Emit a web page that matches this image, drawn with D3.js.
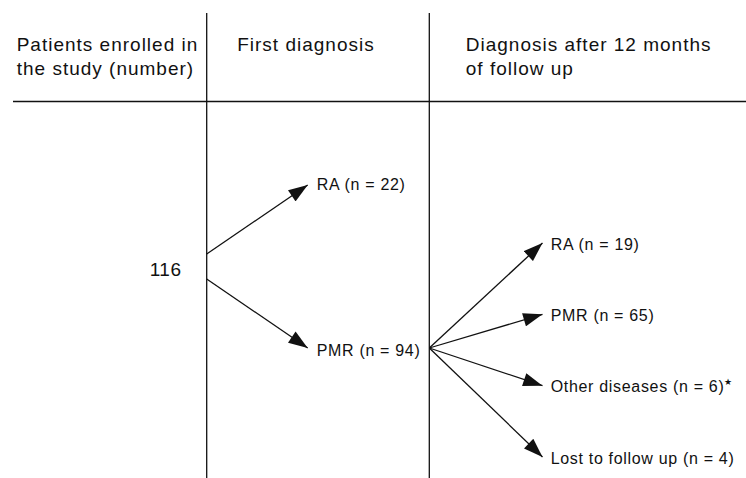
<!DOCTYPE html>
<html>
<head>
<meta charset="utf-8">
<script src="https://cdn.jsdelivr.net/npm/d3@7"></script>
<style>
  html, body { margin: 0; padding: 0; background: #fff; }
  svg { display: block; }
  text { font-family: "Liberation Sans", Arial, Helvetica, sans-serif; fill: #111; }
</style>
</head>
<body>
<svg id="chart" width="746" height="478"></svg>
<script>
// ---- data ----
const headers = [
  ["Patients enrolled in", "the study (number)"],
  ["First diagnosis"],
  ["Diagnosis after 12 months", "of follow up"]
];
const enrolledTotal = 116;
const firstNames = ["RA", "PMR"];
const firstCounts = [22, 94];
const followNames = ["RA", "PMR", "Other diseases", "Lost to follow up"];
const followCounts = [19, 65, 6, 4];
const followNotes = ["", "", "\u2605", ""];

// ---- layout ----
const W = 746, H = 478;
const svg = d3.select("#chart");
const ink = "#111";

// column dividers
const colX = d3.scaleOrdinal().domain([1, 2]).range([206.7, 429.3]);
const lineTop = 13, headerLineY = 101.5;

// rows
const yFirst = d3.scalePoint().domain(firstNames).range([185, 348]);
const yFollow = d3.scalePoint().domain(followNames).range([243, 457]);
const enrolledY = 266.5;

// marker
svg.append("defs").append("marker")
  .attr("id", "arrow")
  .attr("viewBox", "0 0 20 14")
  .attr("refX", 20).attr("refY", 7)
  .attr("markerWidth", 20).attr("markerHeight", 13.5)
  .attr("markerUnits", "userSpaceOnUse")
  .attr("orient", "auto")
  .append("path").attr("d", "M0,0 L20,7 L0,14 Z").attr("fill", ink);

// divider lines
svg.selectAll("line.col").data([1, 2]).join("line")
  .attr("class", "col")
  .attr("x1", d => colX(d)).attr("x2", d => colX(d))
  .attr("y1", lineTop).attr("y2", H)
  .attr("stroke", ink).attr("stroke-width", 1.3);

svg.append("line")
  .attr("x1", 13).attr("x2", W)
  .attr("y1", headerLineY).attr("y2", headerLineY)
  .attr("stroke", ink).attr("stroke-width", 1.3);

// headers
const headerX = [16.7, colX(1) + 30.5, colX(2) + 36.5];
headers.forEach((lines, i) => {
  const t = svg.append("text")
    .attr("x", headerX[i]).attr("y", 51)
    .style("font-size", "19px").style("letter-spacing", "1px");
  lines.forEach((ln, j) => {
    t.append("tspan").attr("x", headerX[i]).attr("y", 51 + j * 23.5).text(ln);
  });
});

// enrolled number
svg.append("text")
  .attr("x", 181.5).attr("y", enrolledY + 9.5)
  .attr("text-anchor", "end")
  .style("font-size", "19px").style("letter-spacing", "0.5px")
  .text(enrolledTotal);

// arrows: enrolled -> first diagnosis
const firstTipX = 307.7, firstLabelX = 316.7;
const spread = [-12.5, 12.5];
svg.selectAll("line.a1").data(firstNames).join("line")
  .attr("class", "a1")
  .attr("x1", colX(1)).attr("y1", (d, i) => enrolledY + spread[i])
  .attr("x2", firstTipX).attr("y2", d => yFirst(d))
  .attr("stroke", ink).attr("stroke-width", 1.3)
  .attr("marker-end", "url(#arrow)");

svg.selectAll("text.l1").data(firstNames).join("text")
  .attr("class", "l1")
  .attr("x", firstLabelX).attr("y", (d, i) => yFirst(d) + (i === 0 ? 5 : 8))
  .style("font-size", "16px").style("letter-spacing", "0.68px")
  .text((d, i) => `${d} (n = ${firstCounts[i]})`);

// arrows: first PMR -> follow up
const followTipX = 542.5, followLabelX = 550.7;
const fanY = yFirst("PMR");
svg.selectAll("line.a2").data(followNames).join("line")
  .attr("class", "a2")
  .attr("x1", colX(2)).attr("y1", fanY)
  .attr("x2", followTipX).attr("y2", d => yFollow(d))
  .attr("stroke", ink).attr("stroke-width", 1.3)
  .attr("marker-end", "url(#arrow)");

const lbl = svg.selectAll("text.l2").data(followNames).join("text")
  .attr("class", "l2")
  .attr("x", followLabelX).attr("y", d => yFollow(d) + 6.5)
  .style("font-size", "16px").style("letter-spacing", "0.68px");
lbl.append("tspan").text((d, i) => `${d} (n = ${followCounts[i]})`);
lbl.filter((d, i) => followNotes[i]).append("tspan")
  .attr("dy", -7).attr("dx", 0)
  .style("font-size", "9px")
  .text((d) => followNotes[followNames.indexOf(d)]);
</script>
</body>
</html>
